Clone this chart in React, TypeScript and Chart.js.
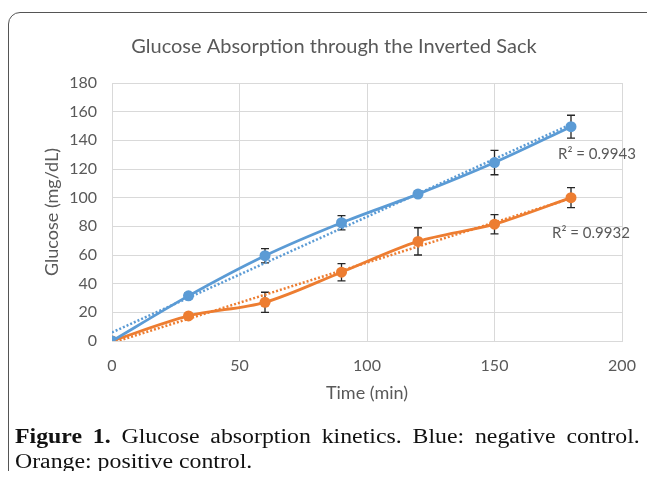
import React, { useEffect, useRef } from "react";
import { Chart, registerables } from "chart.js";

Chart.register(...registerables);

const times = [0, 30, 60, 90, 120, 150, 180];
const negativeControl = [0, 31.5, 59.5, 82.5, 102.5, 124.5, 149.5];
const negativeError = [0, 2, 5, 5, 2, 8.5, 8];
const positiveControl = [0, 17.5, 27, 48, 69.5, 81.5, 100];
const positiveError = [0, 1.5, 7, 6, 9.5, 6.7, 7];
const negativeTrend = [6, 151.2];
const positiveTrend = [-1.3, 99.5];
const trendX = [0, 180];
const negativeR2 = "R² = 0.9943";
const positiveR2 = "R² = 0.9932";
const xTicks = [0, 50, 100, 150, 200];
const yTicks = [0, 20, 40, 60, 80, 100, 120, 140, 160, 180];

const BLUE = "#5B9BD5";
const ORANGE = "#ED7D31";
const GRAY = "#595959";
const FONT = "Lato, 'Open Sans', sans-serif";

const errorBarPlugin = {
  id: "errorBars",
  beforeDatasetsDraw(chart: any) {
    const ctx = chart.ctx;
    const xs = chart.scales.x;
    const ys = chart.scales.y;
    const sets = [
      { vals: negativeControl, errs: negativeError },
      { vals: positiveControl, errs: positiveError },
    ];
    ctx.save();
    ctx.strokeStyle = "#262626";
    ctx.lineWidth = 1.3;
    sets.forEach(({ vals, errs }) => {
      vals.forEach((v, i) => {
        const e = errs[i];
        if (!e) return;
        const px = xs.getPixelForValue(times[i]);
        const top = ys.getPixelForValue(v + e);
        const bot = ys.getPixelForValue(v - e);
        ctx.beginPath();
        ctx.moveTo(px, top);
        ctx.lineTo(px, bot);
        ctx.moveTo(px - 4, top);
        ctx.lineTo(px + 4, top);
        ctx.moveTo(px - 4, bot);
        ctx.lineTo(px + 4, bot);
        ctx.stroke();
      });
    });
    ctx.restore();
  },
  afterDatasetsDraw(chart: any) {
    const ctx = chart.ctx;
    const xs = chart.scales.x;
    const ys = chart.scales.y;
    ctx.save();
    ctx.fillStyle = GRAY;
    ctx.font = "15px " + FONT;
    ctx.textBaseline = "middle";
    ctx.textAlign = "left";
    const endX = xs.getPixelForValue(trendX[1]);
    ctx.fillText(negativeR2, endX - 13, ys.getPixelForValue(negativeTrend[1]) + 30);
    ctx.fillText(positiveR2, endX - 19, ys.getPixelForValue(positiveTrend[1]) + 35);
    ctx.restore();
  },
};

export default function App() {
  const ref = useRef<HTMLCanvasElement>(null);
  useEffect(() => {
    if (!ref.current) return;
    const chart = new Chart(ref.current, {
      type: "line",
      data: {
        datasets: [
          {
            label: "Negative trend",
            data: trendX.map((x, i) => ({ x, y: negativeTrend[i] })),
            borderColor: BLUE,
            borderWidth: 2.5,
            borderDash: [2, 2],
            pointRadius: 0,
            fill: false,
          },
          {
            label: "Positive trend",
            data: trendX.map((x, i) => ({ x, y: positiveTrend[i] })),
            borderColor: ORANGE,
            borderWidth: 2.5,
            borderDash: [2, 2],
            pointRadius: 0,
            fill: false,
          },
          {
            label: "Negative control",
            data: times.map((x, i) => ({ x, y: negativeControl[i] })),
            borderColor: BLUE,
            backgroundColor: BLUE,
            borderWidth: 2.8,
            pointRadius: 5.5,
            pointBorderWidth: 0,
            tension: 0.3,
            fill: false,
          },
          {
            label: "Positive control",
            data: times.map((x, i) => ({ x, y: positiveControl[i] })),
            borderColor: ORANGE,
            backgroundColor: ORANGE,
            borderWidth: 2.8,
            pointRadius: 5.5,
            pointBorderWidth: 0,
            tension: 0.3,
            fill: false,
          },
        ],
      },
      options: {
        animation: false,
        responsive: false,
        maintainAspectRatio: false,
        layout: { padding: { left: 13, right: 0, top: 0, bottom: 0 } },
        plugins: {
          legend: { display: false },
          tooltip: { enabled: false },
          title: {
            display: true,
            text: "Glucose Absorption through the Inverted Sack",
            color: GRAY,
            font: { family: FONT, size: 20, weight: "normal" as any },
            padding: { top: 35, bottom: 24 },
          },
        },
        scales: {
          x: {
            type: "linear",
            min: 0,
            max: 200,
            afterBuildTicks: (s: any) => {
              s.ticks = xTicks.map((v) => ({ value: v }));
            },
            afterFit: (s: any) => {
              s.height = 69;
            },
            ticks: { color: GRAY, font: { family: FONT, size: 16 }, padding: 15 },
            grid: { color: "#d9d9d9", drawTicks: false, lineWidth: 1 },
            border: { color: "#d9d9d9" },
            title: {
              display: true,
              text: "Time (min)",
              color: GRAY,
              font: { family: FONT, size: 18 },
              padding: { top: 0, bottom: 6 },
            },
          },
          y: {
            type: "linear",
            min: 0,
            max: 180,
            afterBuildTicks: (s: any) => {
              s.ticks = yTicks.map((v) => ({ value: v }));
            },
            afterFit: (s: any) => {
              s.width = 99;
            },
            ticks: { color: GRAY, font: { family: FONT, size: 16 }, padding: 15 },
            grid: { color: "#d9d9d9", drawTicks: false, lineWidth: 1 },
            border: { color: "#d9d9d9" },
            title: {
              display: true,
              text: "Glucose (mg/dL)",
              color: GRAY,
              font: { family: FONT, size: 18 },
              padding: { top: 28, bottom: 0 },
            },
          },
          spacer: {
            type: "linear",
            position: "right",
            min: 0,
            max: 1,
            ticks: { display: false },
            grid: { display: false, drawTicks: false },
            border: { display: false },
            afterFit: (s: any) => {
              s.width = 33;
            },
          },
        },
      },
      plugins: [errorBarPlugin],
    });
    return () => chart.destroy();
  }, []);

  const captionStyle: React.CSSProperties = {
    position: "absolute",
    left: 15,
    width: 525,
    fontFamily: "'Liberation Serif', 'Times New Roman', serif",
    fontSize: 20,
    lineHeight: "25px",
    color: "#111",
    transform: "scaleX(1.19)",
    transformOrigin: "left center",
    whiteSpace: "nowrap",
  };

  return (
    <div style={{ position: "relative", width: 655, height: 479, margin: -8, overflow: "hidden", background: "#fff" }}>
      <canvas
        ref={ref}
        width={655}
        height={410}
        style={{ position: "absolute", left: 0, top: 0, width: 655, height: 410 }}
      />
      <div
        style={{
          position: "absolute",
          left: 8,
          top: 12,
          width: 660,
          height: 500,
          border: "1.5px solid #555",
          borderRadius: 12,
          boxSizing: "border-box",
          pointerEvents: "none",
        }}
      />
      <div style={{ ...captionStyle, top: 424, textAlign: "justify", textAlignLast: "justify", whiteSpace: "normal" }}>
        <b>Figure 1.</b> Glucose absorption kinetics. Blue: negative control.
      </div>
      <div style={{ ...captionStyle, top: 449 }}>Orange: positive control.</div>
    </div>
  );
}
